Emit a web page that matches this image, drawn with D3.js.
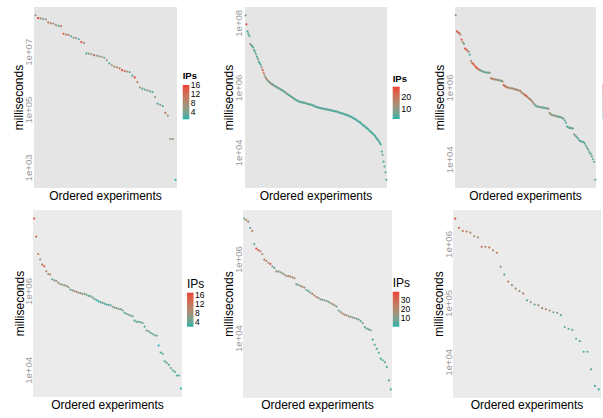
<!DOCTYPE html>
<html>
<head>
<meta charset="utf-8">
<script src="https://cdn.jsdelivr.net/npm/d3@7"></script>
<style>
  body { margin: 0; background: #fff; }
  svg { display: block; }
  text { font-family: "Liberation Sans", Arial, Helvetica, sans-serif; }
</style>
</head>
<body>
<svg id="chart" width="603" height="418"></svg>
<script>
var ms1Log = [8.28,8.18,8.17,8.15,8.14,8.03,8.00,7.99,7.94,7.91,7.90,7.64,7.61,7.60,7.55,7.50,7.49,7.45,7.35,7.32,
  6.96,6.95,6.93,6.90,6.88,6.86,6.84,6.81,6.72,6.61,6.55,6.50,6.48,6.44,6.38,6.35,6.33,6.31,6.19,6.13,
  5.97,5.78,5.74,5.71,5.68,5.65,5.62,5.45,5.22,5.18,5.14,4.90,4.81,4.00,4.00,2.59];
var ips1 = [6,16,8,3,7,11,8,7,8,3,10,15,8,10,3,6,7,2,15,8,2,6,7,10,7,6,7,3,6,2,7,8,7,10,15,11,7,3,2,16,
  10,7,2,3,6,2,3,6,2,6,2,10,6,7,6,1];

var ms2Log = [8.25,7.97,7.75,7.68,7.61,7.36,7.33,7.30,7.26,7.18,
  7.12,7.05,6.97,6.90,6.82,6.77,6.72,6.65,6.56,6.48,
  6.41,6.34,6.29,6.25,6.22,6.19,6.16,6.14,6.12,6.10,
  6.08,6.06,6.05,6.03,6.01,6.00,5.98,5.96,5.94,5.93,
  5.90,5.89,5.87,5.84,5.82,5.80,5.78,5.76,5.74,5.72,
  5.70,5.68,5.66,5.64,5.62,5.61,5.60,5.58,5.57,5.57,
  5.56,5.55,5.55,5.54,5.53,5.52,5.51,5.50,5.50,5.49,
  5.48,5.47,5.46,5.44,5.43,5.42,5.41,5.40,5.39,5.38,
  5.38,5.37,5.36,5.36,5.35,5.35,5.34,5.34,5.33,5.32,
  5.32,5.31,5.30,5.30,5.29,5.28,5.28,5.27,5.26,5.25,
  5.23,5.23,5.22,5.21,5.20,5.19,5.18,5.17,5.16,5.15,
  5.13,5.12,5.11,5.09,5.07,5.06,5.04,5.02,5.00,4.98,
  4.96,4.94,4.92,4.89,4.86,4.84,4.82,4.79,4.77,4.74,
  4.72,4.69,4.66,4.64,4.61,4.58,4.55,4.52,4.47,4.43,
  4.40,4.36,4.31,4.26,4.04,3.94,3.73,3.58,3.40,3.17];
var ips2 = [8,26,3,4,5,12,6,4,3,5, 4,6,3,8,5,3,4,10,24,18, 12,6,20,9,5,14,4,7,16,5,
  4,10,6,3,8,12,5,4,9,6, 3,5,8,4,11,6,3,5,7,4, 9,5,3,6,4,8,5,3,7,4,
  5,3,6,4,10,5,3,4,6,3, 5,4,3,7,4,5,3,6,4,3, 5,4,3,6,3,4,5,3,4,6,
  3,4,3,5,4,3,4,6,3,4, 3,5,3,4,3,4,5,3,4,3, 4,3,5,3,4,3,3,4,5,3,
  4,3,3,4,3,5,3,4,3,3, 4,3,3,4,3,3,4,3,3,4, 3,3,4,3,3,4,3,3,4,3];

var ms3Log = [8.03,7.58,7.55,7.53,7.49,7.35,7.28,7.23,7.10,7.07,
  7.04,7.01,6.93,6.75,6.70,6.67,6.63,6.59,6.56,6.53,
  6.51,6.49,6.48,6.46,6.45,6.44,6.43,6.43,6.43,6.42,
  6.27,6.26,6.25,6.24,6.24,6.23,6.22,6.21,6.21,6.20,
  6.18,6.08,6.05,6.03,6.02,6.01,6.00,5.99,5.99,5.98,
  5.97,5.96,5.95,5.94,5.93,5.92,5.88,5.85,5.83,5.81,
  5.78,5.75,5.72,5.69,5.67,5.63,5.59,5.55,5.51,5.49,
  5.48,5.47,5.47,5.46,5.45,5.45,5.44,5.44,5.43,5.42,
  5.30,5.27,5.25,5.24,5.23,5.22,5.21,5.20,5.20,5.19,
  5.18,5.16,5.14,5.09,5.03,4.92,4.90,4.89,4.88,4.88,
  4.87,4.71,4.67,4.64,4.60,4.55,4.52,4.51,4.50,4.49,
  4.45,4.39,4.33,4.28,4.21,4.16,4.09,4.02,3.94,3.44];
var ips3 = [10,22,16,18,12,22,14,3,22,17, 14,12,3,10,14,22,16,21,22,18,
  16,4,8,5,3,6,4,3,5,8, 12,16,14,10,12,8,14,6,10,4,
  12,22,16,14,18,12,10,14,8,12, 10,14,6,12,10,16,12,14,10,16,
  22,14,12,16,10,12,8,12,3,4, 6,4,8,5,6,4,3,6,5,10,
  12,6,10,8,4,12,6,8,4,5, 6,3,8,4,3,3,5,4,3,6,
  4,8,4,5,3,6,4,3,5,4, 3,4,6,3,4,3,5,3,4,3];

var ms4Log = [7.85,7.39,6.95,6.81,6.68,6.64,6.51,6.44,6.43,6.31,
  6.28,6.27,6.22,6.19,6.17,6.16,6.14,6.11,6.05,6.03,
  6.01,5.99,5.97,5.96,5.94,5.94,5.92,5.89,5.88,5.85,
  5.81,5.78,5.75,5.73,5.71,5.69,5.67,5.66,5.65,5.61,
  5.59,5.58,5.56,5.55,5.52,5.46,5.43,5.41,5.39,5.37,
  5.26,5.23,5.23,5.22,5.20,5.11,5.01,4.99,4.95,4.92,
  4.89,4.88,4.63,4.45,4.42,4.23,4.19,4.14,4.06,4.00,
  3.96,3.87,3.87,3.54];
var ips4 = [16,12,11,7,11,16,10,8,10,3, 6,7,9,7,6,8,6,7,3,6, 10,8,7,6,9,6,5,3,6,5,
  4,3,2,3,5,3,2,6,3,7, 6,5,7,6,4,3,5,6,4,5, 3,5,3,4,5,3,6,5,4,5,
  4,5,2,3,5,3,5,3,5,3, 4,3,3,2];

var ms5Log = [7.04,7.00,6.96,6.80,6.73,6.39,6.28,6.24,6.21,6.14,
  6.00,5.97,5.92,5.89,5.83,5.79,5.70,5.70,5.68,5.65,
  5.62,5.59,5.58,5.57,5.55,5.53,5.37,5.36,5.33,5.31,
  5.29,5.23,5.20,5.16,5.13,5.09,5.05,5.03,4.99,4.98,
  4.97,4.95,4.93,4.90,4.87,4.84,4.81,4.71,4.67,4.63,
  4.60,4.59,4.56,4.55,4.53,4.52,4.50,4.48,4.44,4.39,
  4.29,4.25,4.23,4.21,3.97,3.84,3.74,3.64,3.49,3.45,
  3.40,3.28,2.94,2.71];
var ips5 = [6,22,16,5,24,6,36,28,26,16, 25,22,14,33,8,6,15,12,8,14, 12,20,16,22,20,16,5,14,12,20,
  14,6,5,12,20,16,22,15,8,12, 9,13,8,14,19,15,8,5,14,22, 16,20,14,12,14,8,12,7,6,12,
  5,7,11,6,4,5,4,5,4,5, 6,4,5,4];

var ms6Log = [6.44,6.28,6.23,6.22,6.20,6.14,6.12,5.96,5.96,5.95,
  5.90,5.86,5.62,5.49,5.37,5.31,5.25,5.21,5.17,5.05,
  5.02,4.98,4.97,4.92,4.90,4.88,4.85,4.84,4.80,4.60,
  4.57,4.55,4.40,4.36,4.18,4.18,3.88,3.60,3.54];
var ips6 = [36,26,24,25,18,17,16,25,18,24, 18,28,16,4,22,17,15,18,22,6,
  15,8,16,17,23,15,7,13,6,4, 5,6,4,5,3,4,5,3,3];

// tick values and their labels
var ticks1 = [1e3, 1e5, 1e7], tickLabels1 = ['1e+03', '1e+05', '1e+07'];
var ticks2 = [1e4, 1e6, 1e8], tickLabels2 = ['1e+04', '1e+06', '1e+08'];
var ticks3 = [1e4, 1e6],      tickLabels3 = ['1e+04', '1e+06'];
var ticks4 = [1e4, 1e6],      tickLabels4 = ['1e+04', '1e+06'];
var ticks5 = [1e4, 1e6],      tickLabels5 = ['1e+04', '1e+06'];
var ticks6 = [1e4, 1e5, 1e6], tickLabels6 = ['1e+04', '1e+05', '1e+06'];

// colour limits and legend breaks
var ipRange1 = [1, 16], legendBreaks1 = [4, 8, 12, 16];
var ipRange2 = [1, 29], legendBreaks2 = [10, 20];
var ipRange3 = [1, 24], legendBreaks3 = [];
var ipRange4 = [2, 17], legendBreaks4 = [4, 8, 12, 16];
var ipRange5 = [1, 39], legendBreaks5 = [10, 20, 30];
var ipRange6 = [1, 38], legendBreaks6 = [];

var xTitle = 'Ordered experiments', yTitle = 'milliseconds', legendTitle = 'IPs';

var LOW = '#20b2aa', HIGH = '#ec4238';

var svg = d3.select('#chart');
var defs = svg.append('defs');

var panels = [
  {ms: ms1Log, ips: ips1, ticks: ticks1, labels: tickLabels1, range: ipRange1, breaks: legendBreaks1,
   x0: 34, x1: 177, y0: 7, y1: 188, ylab: 23, tickX: 32, xlabY: 200, bg: '#e5e5e5',
   legend: {x: 182.7, y: 85, h: 34.3, w: 6.6, bold: true, tsize: 9.5, lsize: 8.5, tgap: 6}},
  {ms: ms2Log, ips: ips2, ticks: ticks2, labels: tickLabels2, range: ipRange2, breaks: legendBreaks2,
   x0: 245, x1: 387, y0: 7, y1: 188, ylab: 233, tickX: 242, xlabY: 200, bg: '#e5e5e5',
   legend: {x: 392.7, y: 86.7, h: 32.3, w: 7, bold: true, tsize: 9.5, lsize: 9, tgap: 5}},
  {ms: ms3Log, ips: ips3, ticks: ticks3, labels: tickLabels3, range: ipRange3, breaks: legendBreaks3,
   x0: 455, x1: 596, y0: 7, y1: 188, ylab: 444, tickX: 453, xlabY: 200, bg: '#e5e5e5',
   legend: {x: 602, y: 84, h: 35, w: 1, sliver: true}},
  {ms: ms4Log, ips: ips4, ticks: ticks4, labels: tickLabels4, range: ipRange4, breaks: legendBreaks4,
   x0: 33, x1: 182, y0: 210, y1: 397, ylab: 24, tickX: 32, xlabY: 409, bg: '#ebebeb',
   legend: {x: 187, y: 292.7, h: 34, w: 6.5, bold: false, tsize: 12, lsize: 8.5, tgap: 5}},
  {ms: ms5Log, ips: ips5, ticks: ticks5, labels: tickLabels5, range: ipRange5, breaks: legendBreaks5,
   x0: 243, x1: 392, y0: 210, y1: 398, ylab: 233, tickX: 242, xlabY: 409, bg: '#ebebeb',
   legend: {x: 392.7, y: 291.7, h: 35, w: 6.6, bold: false, tsize: 12, lsize: 8.5, tgap: 5}},
  {ms: ms6Log, ips: ips6, ticks: ticks6, labels: tickLabels6, range: ipRange6, breaks: legendBreaks6,
   x0: 453, x1: 601, y0: 210, y1: 398, ylab: 443, tickX: 452, xlabY: 409, bg: '#ebebeb',
   legend: null}
];

panels.forEach(drawPanel);

function drawPanel(p, k) {
  var g = svg.append('g');
  g.append('rect')
    .attr('x', p.x0).attr('y', p.y0)
    .attr('width', p.x1 - p.x0).attr('height', p.y1 - p.y0)
    .attr('fill', p.bg);

  var values = p.ms.map(function(v) { return Math.pow(10, v); });

  // discrete x, like ggplot: 0.6 step of room at each end
  var x = d3.scalePoint()
    .domain(d3.range(values.length))
    .range([p.x0, p.x1])
    .padding(0.6);

  // log y with 5% expansion in log space
  var lo = d3.min(p.ms), hi = d3.max(p.ms), pad = (hi - lo) * 0.05;
  var y = d3.scaleLog()
    .domain([Math.pow(10, lo - pad), Math.pow(10, hi + pad)])
    .range([p.y1, p.y0]);

  var colour = d3.scaleLinear()
    .domain(p.range)
    .range([LOW, HIGH])
    .interpolate(d3.interpolateLab)
    .clamp(true);

  g.selectAll('circle')
    .data(values)
    .enter().append('circle')
    .attr('cx', function(d, i) { return x(i); })
    .attr('cy', function(d) { return y(d); })
    .attr('r', 1.1)
    .attr('fill', function(d, i) { return colour(p.ips[i]); });

  // tick labels, rotated
  p.ticks.forEach(function(t, i) {
    g.append('text')
      .attr('transform', 'translate(' + p.tickX + ',' + y(t) + ') rotate(-90)')
      .attr('text-anchor', 'middle')
      .attr('font-size', 9.6)
      .attr('fill', '#9a9a9a')
      .text(p.labels[i]);
  });

  g.append('text')
    .attr('transform', 'translate(' + p.ylab + ',' + ((p.y0 + p.y1) / 2) + ') rotate(-90)')
    .attr('text-anchor', 'middle')
    .attr('font-size', 12)
    .attr('fill', '#000')
    .text(yTitle);

  g.append('text')
    .attr('x', (p.x0 + p.x1) / 2)
    .attr('y', p.xlabY)
    .attr('text-anchor', 'middle')
    .attr('font-size', 12)
    .attr('fill', '#000')
    .text(xTitle);

  if (!p.legend) return;
  var L = p.legend;

  var grad = defs.append('linearGradient')
    .attr('id', 'grad' + k)
    .attr('x1', 0).attr('y1', 1).attr('x2', 0).attr('y2', 0);
  d3.range(11).forEach(function(s) {
    var t = s / 10;
    grad.append('stop')
      .attr('offset', t)
      .attr('stop-color', colour(p.range[0] + t * (p.range[1] - p.range[0])));
  });

  g.append('rect')
    .attr('x', L.x).attr('y', L.y)
    .attr('width', L.w).attr('height', L.h)
    .attr('fill', 'url(#grad' + k + ')')
    .attr('opacity', L.sliver ? 0.35 : 1);

  if (L.sliver) return;

  g.append('text')
    .attr('x', L.x)
    .attr('y', L.y - L.tgap)
    .attr('font-size', L.tsize)
    .attr('font-weight', L.bold ? 'bold' : 'normal')
    .text(legendTitle);

  var ly = d3.scaleLinear().domain(p.range).range([L.y + L.h, L.y]);
  p.breaks.forEach(function(b) {
    g.append('text')
      .attr('x', L.x + L.w + 1.5)
      .attr('y', ly(b))
      .attr('dy', '0.35em')
      .attr('font-size', L.lsize)
      .attr('fill', '#000')
      .text(b);
  });
}
</script>
</body>
</html>
